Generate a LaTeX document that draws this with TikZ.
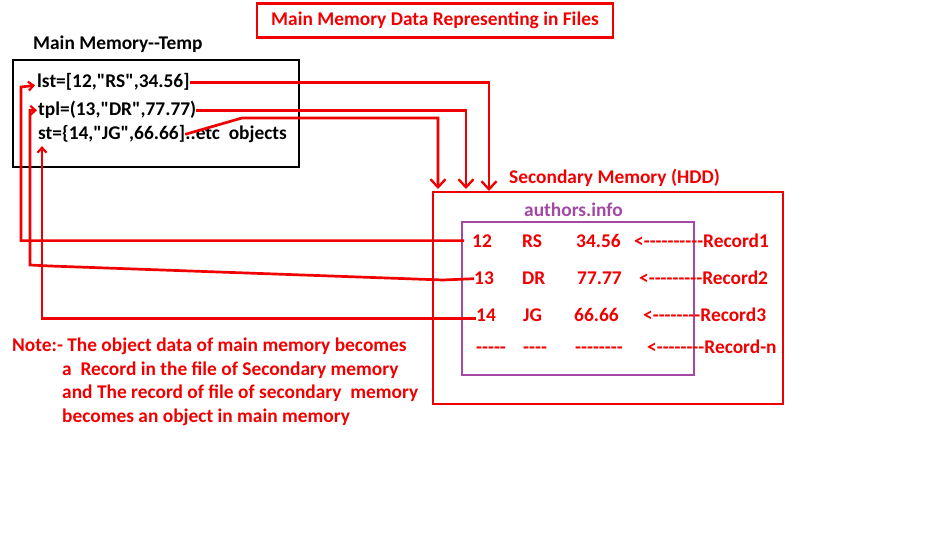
\documentclass[tikz,border=0pt]{standalone}
\usepackage{fontspec}
\setmainfont{Carlito}[Ligatures=TeXOff]
\usepackage{xcolor}
\usetikzlibrary{arrows.meta}
\definecolor{filepurple}{RGB}{163,73,164}
\definecolor{linered}{RGB}{240,0,0}

\tikzset{
  txt/.style={inner sep=0pt,anchor=base west,font=\bfseries\fontsize{19.4}{23.7}\selectfont},
  rec/.style={txt,text=linered},
  link/.style={linered,line width=2.7pt},
  bigtip/.style={-{Straight Barb[length=8pt,width=15pt,line width=2.4pt]}},
  smalltip/.style={-{Straight Barb[length=5pt,width=9pt,line width=2.2pt]}}
}

\begin{document}
\begin{tikzpicture}[x=1pt,y=-1pt]

\useasboundingbox (0,0) rectangle (935,540);

% title
\node[draw=linered,line width=2.6pt,minimum width=356pt,minimum height=34pt,inner sep=0pt,
      font=\bfseries\fontsize{19.4}{23.7}\selectfont,text=linered] (title) at (435,20.5) {Main Memory Data Representing in Files};

% main memory
\node[txt] (mmlabel) at (33,50) {Main Memory--Temp};
\node[draw,line width=2.8pt,minimum width=286pt,minimum height=107pt] (mainmem) at (156,113.5) {};
\node[txt] (lst) at (37,88) {lst=[12,"RS",34.56]};
\node[txt] (tpl) at (38,116) {tpl=(13,"DR",77.77)};
\node[txt] (st) at (38,140) {st=\{14,"JG",66.66]};
\node[txt] (stetc) at (st.base east) {..etc\ \ objects};

% secondary memory
\node[rec] (hddlabel) at (509,184) {Secondary Memory (HDD)};
\node[draw=linered,line width=2.6pt,minimum width=350pt,minimum height=212pt] (hdd) at (608,298) {};
\node[draw=filepurple,line width=2.6pt,minimum width=232pt,minimum height=153pt] (file) at (578,298.5) {};
\node[txt,text=filepurple] (fname) at (524,217) {authors.info};

\node[rec] (n12) at (472,248) {12};
\node[rec] (rs)  at (522,248) {RS};
\node[rec] (v1)  at (576,248) {34.56};
\node[rec] (r1)  at (634,248) {<----------Record1};

\node[rec] (n13) at (474,285) {13};
\node[rec] (dr)  at (522,285) {DR};
\node[rec] (v2)  at (577,285) {77.77};
\node[rec] (r2)  at (639,285) {<---------Record2};

\node[rec] (n14) at (476,322) {14};
\node[rec] (jg)  at (523,322) {JG};
\node[rec] (v3)  at (574,322) {66.66};
\node[rec] (r3)  at (643,322) {<--------Record3};

\node[rec] (d1) at (476,353) {-----};
\node[rec] (d2) at (523,353) {----};
\node[rec] (d3) at (575,353) {--------};
\node[rec] (rn) at (647,353) {<--------Record-n};

% note
\node[rec] (note1) at (12,351) {Note:- The object data of main memory becomes};
\node[rec] (note2) at (62,375) {a\ \ Record in the file of Secondary memory};
\node[rec] (note3) at (62,398.5) {and The record of file of secondary\ \ memory};
\node[rec] (note4) at (62,422) {becomes an object in main memory};

% objects to records
\coordinate (in1) at (489,191);
\coordinate (in2) at (466,189);
\coordinate (in3) at (438,189);
\draw[link,bigtip] (lst.east) -| (in1);
\draw[link,bigtip] (tpl.east) -| (in2);
\draw[link,bigtip] (st.east) -- (242,118) -| (in3);

% records back to objects
\draw[link,smalltip] ([xshift=-8pt,yshift=1pt]n12.west) -| (21,87) -- ([xshift=-2pt,yshift=-3pt]lst.west);
\draw[link,smalltip] (n13.west) -- (443,280) -- (50,266) -- (30,265) |- ([xshift=-1pt]tpl.west);
\draw[link,smalltip] ([yshift=-3pt]n14.west) -| ([xshift=4pt,yshift=-3pt]st.south west);

\end{tikzpicture}
\end{document}
